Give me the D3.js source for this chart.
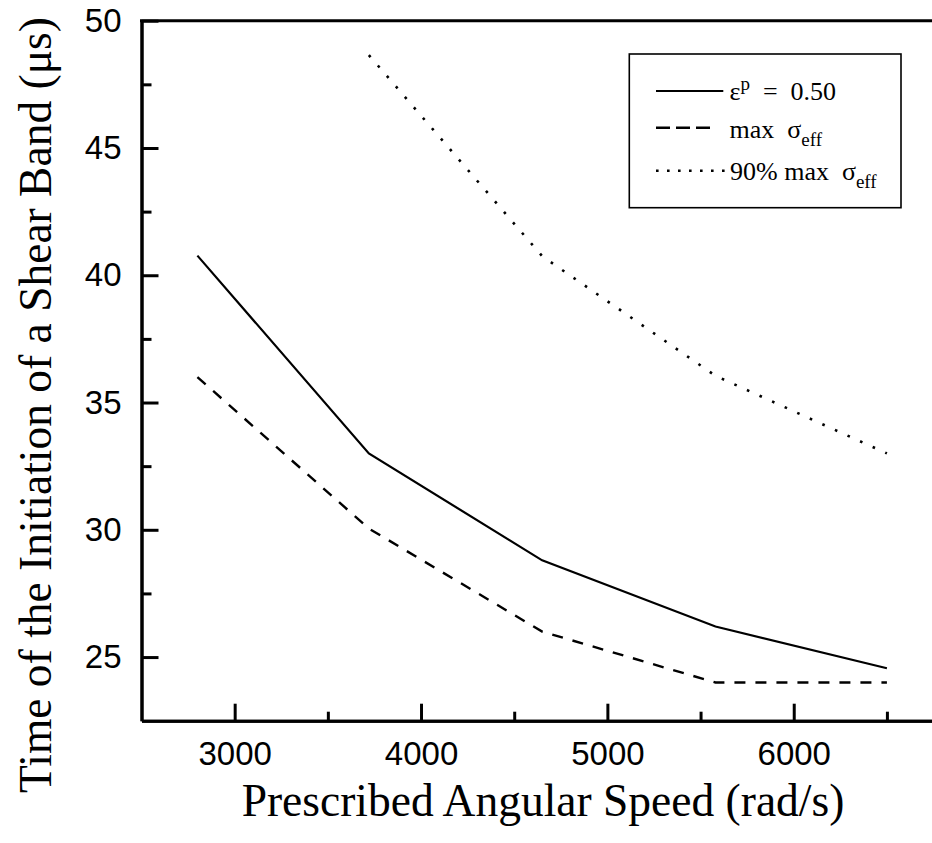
<!DOCTYPE html>
<html>
<head>
<meta charset="utf-8">
<script src="https://cdn.jsdelivr.net/npm/d3@7"></script>
<style>
  html, body { margin: 0; padding: 0; background: #fff; }
  svg { display: block; }
</style>
</head>
<body>
<svg id="chart" width="932" height="843"></svg>
<script>
// ---- data ----
const speeds = [2800, 3720, 4650, 5580, 6500];
const strainSeries = [40.77, 33.0, 28.8, 26.2, 24.56];      // eps_p = 0.50
const maxStressSeries = [36.0, 30.05, 26.0, 24.0, 24.0];    // max sigma_eff
const dottedSpeeds = [3720, 4650, 5580, 6500];
const ninetySeries = [48.65, 40.75, 36.05, 33.0];            // 90% max sigma_eff
const xMajorTicks = [3000, 4000, 5000, 6000];
const xMinorTicks = [3500, 4500, 5500, 6500];
const yMajorTicks = [25, 30, 35, 40, 45, 50];
const yMinorTicks = [27.5, 32.5, 37.5, 42.5, 47.5];

(function () {
const svg = d3.select("#chart");
const pLeft = 141.5, pRight = 933.5, pTop = 20.7, pBottom = 720.7;

const x = d3.scaleLinear().domain([2500, 6750]).range([pLeft, pRight]);
const y = d3.scaleLinear().domain([22.5, 50]).range([pBottom, pTop]);

// axes
const xAxis = d3.axisBottom(x).tickValues(xMajorTicks).tickSize(-17).tickSizeOuter(0).tickPadding(21).tickFormat(d3.format("d"));
const xMinor = d3.axisBottom(x).tickValues(xMinorTicks).tickSize(-9).tickSizeOuter(0).tickFormat("");
const yAxis = d3.axisLeft(y).tickValues(yMajorTicks).tickSize(-17).tickSizeOuter(0).tickPadding(20).tickFormat(d3.format("d"));
const yMinor = d3.axisLeft(y).tickValues(yMinorTicks).tickSize(-10).tickSizeOuter(0).tickFormat("");

function styleAxis(g) {
  g.selectAll("path.domain").attr("stroke", "#000").attr("stroke-width", 3);
  g.selectAll(".tick line").attr("stroke", "#000").attr("stroke-width", 3);
  g.selectAll(".tick text").attr("fill", "#000")
    .style("font-family", "'Liberation Sans', Arial, sans-serif").style("font-size", "33px");
}

svg.append("g").attr("transform", `translate(0,${pBottom})`).call(xMinor).call(styleAxis);
svg.append("g").attr("transform", `translate(0,${pBottom})`).call(xAxis).call(styleAxis);
svg.append("g").attr("transform", `translate(${pLeft},0)`).call(yMinor).call(styleAxis);
svg.append("g").attr("transform", `translate(${pLeft},0)`).call(yAxis).call(styleAxis);

// top frame line
svg.append("line").attr("x1", pLeft - 1.5).attr("x2", pRight).attr("y1", y(50)).attr("y2", y(50))
  .attr("stroke", "#000").attr("stroke-width", 3);

// lines
const line = d3.line().x(d => x(d[0])).y(d => y(d[1]));
svg.append("path").datum(d3.zip(speeds, strainSeries)).attr("d", line)
  .attr("fill", "none").attr("stroke", "#000").attr("stroke-width", 2.2);
svg.append("path").datum(d3.zip(speeds, maxStressSeries)).attr("d", line)
  .attr("fill", "none").attr("stroke", "#000").attr("stroke-width", 2.4).attr("stroke-dasharray", "11,10");
svg.append("path").datum(d3.zip(dottedSpeeds, ninetySeries)).attr("d", line)
  .attr("fill", "none").attr("stroke", "#000").attr("stroke-width", 2.6).attr("stroke-dasharray", "2.6,11.2");

// legend
const serif = "'Liberation Serif', 'Times New Roman', serif";
const lg = svg.append("g");
lg.append("rect").attr("x", 629.3).attr("y", 54).attr("width", 271.7).attr("height", 153.7)
  .attr("fill", "#fff").attr("stroke", "#000").attr("stroke-width", 1.6);

const rows = [
  {y: 91, dash: null, w: 2.2, end: 723.3},
  {y: 127.7, dash: "14,6", w: 2.6, end: 710},
  {y: 170.7, dash: "2.6,8.4", w: 2.6, end: 727}
];
rows.forEach(r => {
  lg.append("line").attr("x1", 656).attr("x2", r.end).attr("y1", r.y).attr("y2", r.y)
    .attr("stroke", "#000").attr("stroke-width", r.w).attr("stroke-dasharray", r.dash);
});

function legendText(tx, ty) {
  return lg.append("text").attr("x", tx).attr("y", ty).attr("xml:space", "preserve")
    .style("font-family", serif).style("font-size", "26px").style("white-space", "pre").attr("fill", "#000");
}
const t1 = legendText(729.5, 100);
t1.append("tspan").text("ε");
t1.append("tspan").attr("dy", -10).style("font-size", "19px").text("p");
t1.append("tspan").attr("dy", 10).text("  =  0.50");

const t2 = legendText(729.5, 137.5);
t2.append("tspan").text("max  σ");
t2.append("tspan").attr("dy", 8).style("font-size", "19px").text("eff");

const t3 = legendText(730, 180);
t3.append("tspan").text("90% max  σ");
t3.append("tspan").attr("dy", 8).style("font-size", "19px").text("eff");

// axis titles
svg.append("text").attr("x", 543).attr("y", 816).attr("text-anchor", "middle")
  .style("font-family", serif).style("font-size", "45.5px").attr("fill", "#000")
  .text("Prescribed Angular Speed (rad/s)");
svg.append("text").attr("transform", "translate(51,405) rotate(-90)").attr("text-anchor", "middle")
  .style("font-family", serif).style("font-size", "45.5px").attr("fill", "#000")
  .text("Time of the Initiation of a Shear Band (μs)");
})();
</script>
</body>
</html>
